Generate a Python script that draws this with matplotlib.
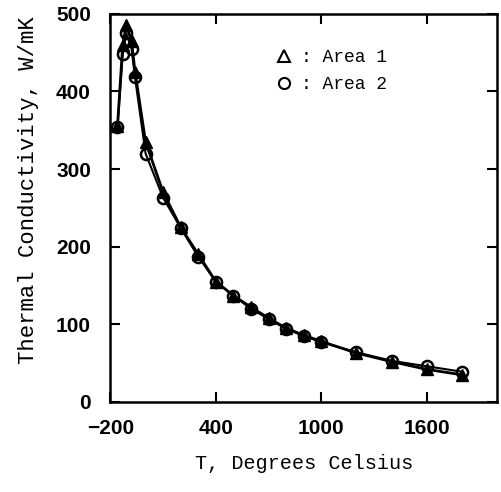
import matplotlib
matplotlib.use('Agg')
import matplotlib.pyplot as plt
from matplotlib.lines import Line2D

# Temperatures (deg C)
temps = [-160, -130, -110, -80, -60, 0, 100, 200, 300, 400, 500, 600,
         700, 800, 900, 1000, 1200, 1400, 1600, 1800]
# Area 1 (triangles)
area1 = [355, 460, 485, 465, 425, 335, 270, 225, 190, 155, 137, 122,
         108, 95, 86, 78, 63, 52, 42, 35]
# Area 2 (circles)
area2 = [354, 448, 475, 455, 418, 320, 263, 224, 187, 155, 137, 120,
         107, 94, 85, 77, 64, 53, 46, 39]

xticks = [-200, 400, 1000, 1600]
yticks = [0, 100, 200, 300, 400, 500]

fig = plt.figure(figsize=(5.02, 4.92), dpi=100)
ax = fig.add_axes([0.220, 0.183, 0.770, 0.789])

ax.plot(temps, area1, color='black', lw=2, marker='^', ms=8,
        mfc='black', mec='black')
ax.plot(temps, area2, color='black', lw=1.5, marker='o', ms=8,
        mfc='none', mec='black', mew=1.8)

ax.set_xlim(-200, 2000)
ax.set_ylim(0, 500)
ax.set_xticks(xticks)
ax.set_yticks(yticks)
tick_font = {'family': 'Liberation Sans', 'weight': 'bold', 'size': 15}
ax.set_xticklabels(['\u2212200', '400', '1000', '1600'], fontdict=tick_font)
ax.set_yticklabels([str(t) for t in yticks], fontdict=tick_font)
ax.tick_params(direction='in', length=7, width=1.5, top=True, right=True)
ax.tick_params(axis='x', pad=12)
ax.tick_params(axis='y', pad=14)
for s in ax.spines.values():
    s.set_linewidth(1.8)

ax.set_xlabel('T, Degrees Celsius', family='Liberation Mono', size=14.5,
              labelpad=12)
ax.set_ylabel('Thermal Conductivity, W/mK', family='Liberation Mono',
              size=16, labelpad=12)
ax.yaxis.set_label_coords(-0.185, 0.545)

handles = [
    Line2D([], [], ls='none', marker='^', ms=8, mfc='white', mec='black', mew=1.5),
    Line2D([], [], ls='none', marker='o', ms=8, mfc='white', mec='black', mew=1.5),
]
ax.legend(handles, [': Area 1', ': Area 2'], loc='upper left',
          bbox_to_anchor=(0.38, 0.95), frameon=False, handletextpad=0.3,
          handlelength=1.2, prop={'family': 'Liberation Mono', 'size': 13},
          labelspacing=0.55)

plt.savefig('out.png')
